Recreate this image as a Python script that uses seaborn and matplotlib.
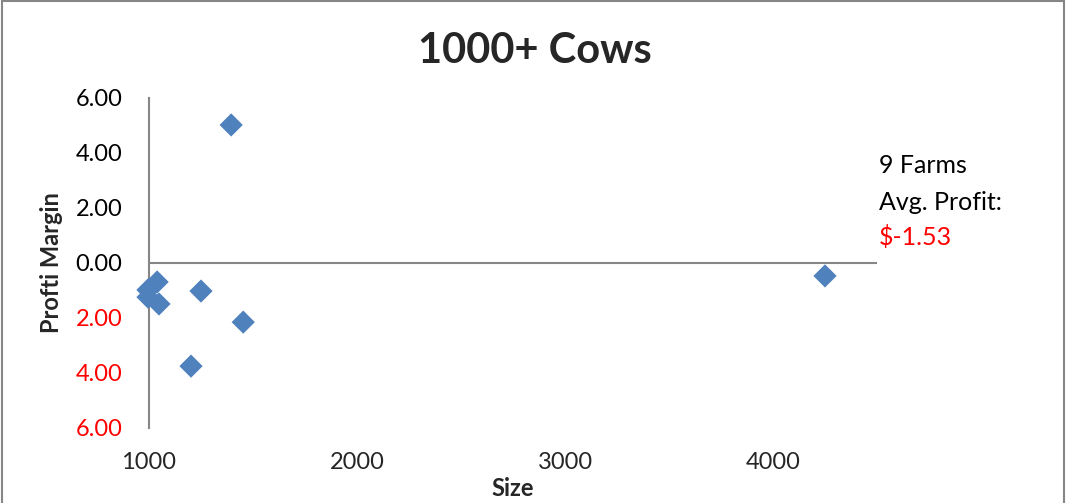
import matplotlib
matplotlib.use("Agg")
import matplotlib.pyplot as plt
from matplotlib.patches import Rectangle
import seaborn as sns
import pandas as pd

# Herd size and profit margin for the 1000+ cow farms
herd_size = [1395, 4250, 1039, 995, 995, 1048, 1250, 1453, 1202]
profit_margin = [5.02, -0.47, -0.69, -0.98, -1.24, -1.49, -1.02, -2.15, -3.75]

x_ticks = [1000, 2000, 3000, 4000]
y_ticks = [-6, -4, -2, 0, 2, 4, 6]

title = "1000+ Cows"
x_label = "Size"
y_label = "Profti Margin"
note_lines = ["9 Farms", "Avg. Profit:"]
note_value = "$-1.53"

sns.set_theme(style="white")
plt.rcParams["font.family"] = ["Lato", "DejaVu Sans"]

df = pd.DataFrame({"Size": herd_size, "Profit": profit_margin})

fig = plt.figure(figsize=(10.67, 5.03), dpi=100)
ax = fig.add_axes([149 / 1067, 1 - 428 / 503, 728 / 1067, 330 / 503])

axis_grey = "#868686"
sns.scatterplot(data=df, x="Size", y="Profit", marker="D", s=140,
                color="#4F81BD", edgecolor="none", ax=ax, zorder=3,
                clip_on=False)

ax.set_xlim(1000, 4500)
ax.set_ylim(-6, 6)
ax.set_xticks(x_ticks)
ax.set_yticks(y_ticks)
ax.set_xticklabels([str(v) for v in x_ticks])
ax.set_yticklabels([f"{abs(v):.2f}" for v in y_ticks])
for lbl, v in zip(ax.get_yticklabels(), y_ticks):
    lbl.set_color("red" if v < 0 else "black")

ax.tick_params(axis="both", length=0, labelsize=17)
ax.tick_params(axis="x", pad=17)
ax.tick_params(axis="y", pad=19)

for side in ["top", "right", "bottom"]:
    ax.spines[side].set_visible(False)
ax.spines["left"].set_color(axis_grey)
ax.spines["left"].set_linewidth(1.5)
ax.axhline(0, color=axis_grey, linewidth=1.5, zorder=1)

ax.set_xlabel(x_label, fontsize=17, fontweight="bold")
ax.set_ylabel(y_label, fontsize=17, fontweight="bold")
ax.xaxis.set_label_coords(0.5, -0.15)
ax.yaxis.set_label_coords(-0.118, 0.5)

fig.text(535 / 1067, 1 - 51 / 503, title, ha="center", va="center",
         fontsize=30, fontweight="bold")

for i, line in enumerate(note_lines):
    fig.text(879 / 1067, 1 - (165 + 37 * i) / 503, line, ha="left", va="center",
             fontsize=18, color="black")
fig.text(879 / 1067, 1 - 237 / 503, note_value, ha="left", va="center",
         fontsize=18, color="red")

fig.patches.append(Rectangle((2 / 1067, -0.01), 1062 / 1067, 1.0 - 1 / 503 + 0.01,
                             transform=fig.transFigure, fill=False,
                             edgecolor=axis_grey, linewidth=1.5))

fig.savefig("out.png", dpi=100)
